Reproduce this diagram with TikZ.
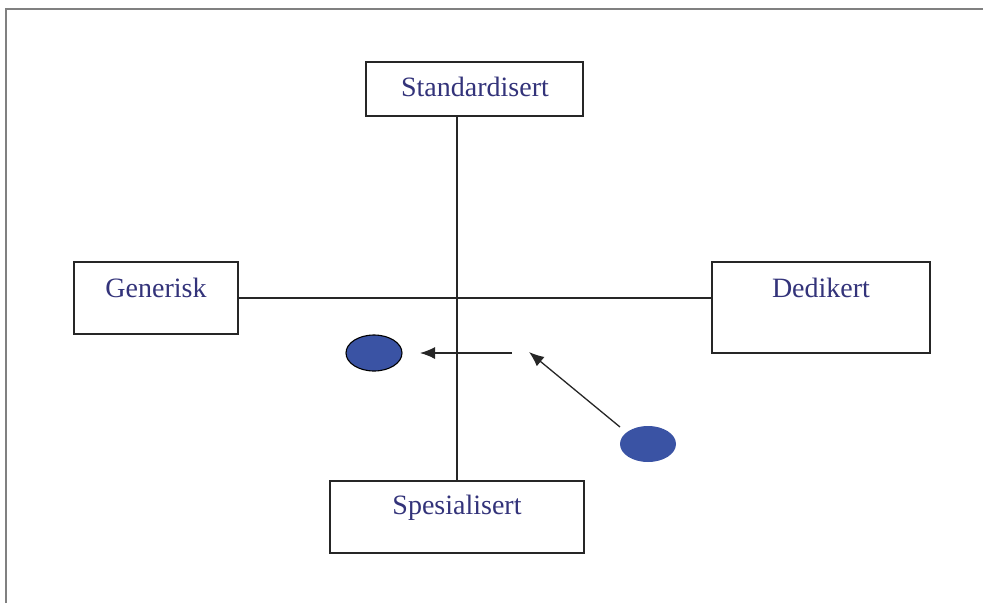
\documentclass[tikz,border=0pt]{standalone}
\usepackage{fontspec}
\setmainfont{Liberation Serif}
\usetikzlibrary{arrows.meta,shapes.geometric}
\definecolor{txt}{HTML}{33337A}
\definecolor{dot}{HTML}{3A53A4}
\tikzset{
  box/.style={draw=black!85, line width=1.3pt, fill=white, inner sep=0pt},
  lab/.style={text=txt, font=\fontsize{28}{32}\selectfont, inner sep=0pt, anchor=base},
  conn/.style={draw=black!85, line width=1.3pt},
  arr/.style={conn, -{Latex[length=15pt,width=12pt]}},
  blob/.style={ellipse, fill=dot, minimum width=56pt, minimum height=36pt, inner sep=0pt}
}
\begin{document}
\begin{tikzpicture}[x=1pt,y=-1pt]
\useasboundingbox (0,0) rectangle (983,603);
\draw[gray, line width=1.2pt] (6,603) -- (6,9) -- (983,9);
% boxes
\node[box, minimum width=217pt, minimum height=54pt] (std) at (474.5,89) {};
\node[box, minimum width=164pt, minimum height=72pt] (gen) at (156,298) {};
\node[box, minimum width=218pt, minimum height=91pt] (ded) at (821,307.5) {};
\node[box, minimum width=254pt, minimum height=72pt] (spe) at (457,517) {};
% axes
\draw[conn] (std.south -| 457,0) -- (spe.north -| 457,0);
\draw[conn] (gen.east |- 0,298) -- (ded.west |- 0,298);
% labels
\node[lab] (tstd) at (475,96) {Standardisert};
\node[lab] (tgen) at (156,297) {Generisk};
\node[lab] (tded) at (821,297) {Dedikert};
\node[lab] (tspe) at (457,514) {Spesialisert};
% blobs
\node[blob, draw=black, line width=1.1pt] (b1) at (374,353) {};
\node[blob] (b2) at (648,444) {};
\coordinate (a1s) at (512,353);
\coordinate (a1e) at (420,353);
\coordinate (a2s) at (620,427);
\coordinate (a2e) at (529,352);
\draw[arr] (a1s) -- (a1e);
\draw[arr] (a2s) -- (a2e);
\end{tikzpicture}
\end{document}
